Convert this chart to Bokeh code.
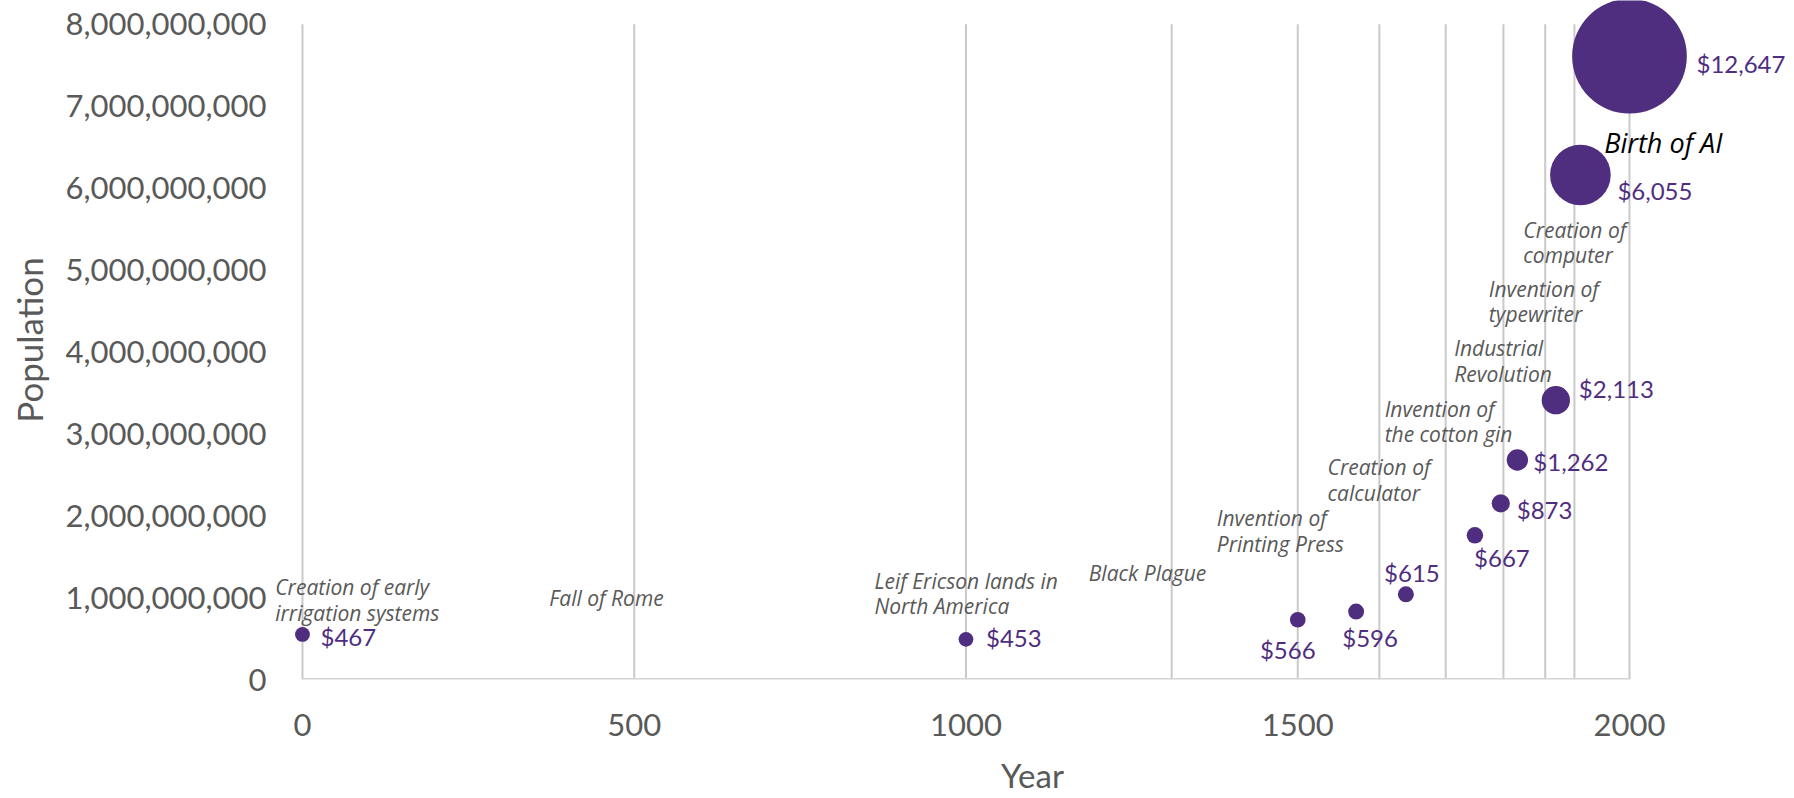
from bokeh.plotting import figure
from bokeh.models import Range1d, FixedTicker, NumeralTickFormatter, ColumnDataSource
from bokeh.core.properties import value
from bokeh.embed import file_html
from bokeh.resources import INLINE

# ---- data ----
years = [0, 1000, 1500, 1588, 1663, 1767, 1806, 1831, 1889, 1926, 2000]
population = [0.55e9, 0.49e9, 0.73e9, 0.83e9, 1.04e9, 1.76e9, 2.15e9, 2.68e9, 3.41e9, 6.16e9, 7.61e9]
gdp_per_capita = [467, 453, 566, 596, 615, 667, 873, 1262, 2113, 6055, 12647]

event_names = [
    "Creation of early\nirrigation systems",
    "Fall of Rome",
    "Leif Ericson lands in\nNorth America",
    "Black Plague",
    "Invention of\nPrinting Press",
    "Creation of\ncalculator",
    "Invention of\nthe cotton gin",
    "Industrial\nRevolution",
    "Invention of\ntypewriter",
    "Creation of\ncomputer",
    "Birth of AI",
]
event_years = [0, 500, 1000, 1310, 1500, 1623, 1723, 1810, 1873, 1917, 2000]

x_ticks = [0, 500, 1000, 1500, 2000]
y_ticks = [0, 1e9, 2e9, 3e9, 4e9, 5e9, 6e9, 7e9, 8e9]

# ---- layout / style (kept apart from the data) ----
PURPLE = "#4F2D7F"
GREY = "#595959"
FONT = "Lato"
EFONT = "Open Sans"

event_label_x = [-41, 372, 862, 1185, 1378, 1545, 1631, 1736, 1788, 1840, 1962]
event_label_y = [0.97e9, 1.0e9, 1.05e9, 1.306e9, 1.813e9, 2.436e9, 3.15e9, 3.889e9, 4.615e9, 5.336e9, 6.557e9]

val_align = ["left", "left", "center", "center", "center", "center", "left", "left", "left", "left", "left"]
val_dx = [18, 20, -10, 14, 6, 27, 16, 16, 23, 37, 67]
val_dy = [2, -2, 30, 26, -22, 22, 6, 2, -12, 16, 7]

bubble_diam = [2 * (5.5 + 0.0041 * v) for v in gdp_per_capita]

p = figure(width=1794, height=798, output_backend="svg", toolbar_location=None,
           x_range=Range1d(-48.2, 2248.7), y_range=Range1d(0, 8.29e9),
           min_border_left=270, min_border_right=0, min_border_top=0, min_border_bottom=119)
p.outline_line_color = None
p.xgrid.grid_line_color = None
p.ygrid.grid_line_color = None
p.background_fill_color = "white"
p.border_fill_color = "white"

# event lines
top = [8e9] * len(event_years)
bot = [0] * len(event_years)
p.segment(x0=event_years, y0=bot, x1=event_years, y1=top, line_color="#C9C9C9", line_width=2)
# x axis line from 0 to 2000
p.segment(x0=[x_ticks[0]], y0=[0], x1=[x_ticks[-1]], y1=[0], line_color="#D4D4D4", line_width=3)

src = ColumnDataSource(dict(x=years, y=population, d=bubble_diam,
                            lab=[f"${v:,}" for v in gdp_per_capita],
                            al=val_align, dx=val_dx, dy=val_dy))
p.scatter("x", "y", size="d", source=src, fill_color=PURPLE, line_color=PURPLE, line_width=0)
p.text("x", "y", text="lab", source=src, x_offset="dx", y_offset="dy",
       text_align="al", text_baseline="middle", text_color=PURPLE,
       text_font=value(FONT), text_font_size="24px")

ev = ColumnDataSource(dict(x=event_label_x[:-1], y=event_label_y[:-1], t=event_names[:-1]))
p.text("x", "y", text="t", source=ev, text_align="left", text_baseline="middle",
       text_color=GREY, text_font=value(EFONT), text_font_style="italic",
       text_font_size="21px", text_line_height=0.9)
ev2 = ColumnDataSource(dict(x=event_label_x[-1:], y=event_label_y[-1:], t=event_names[-1:]))
p.text("x", "y", text="t", source=ev2, text_align="left", text_baseline="middle",
       text_color="black", text_font=value(EFONT), text_font_style="italic",
       text_font_size="27px")

# axes
xa = p.xaxis[0]
xa.ticker = FixedTicker(ticks=x_ticks)
xa.axis_line_color = None
xa.major_tick_line_color = None
xa.minor_tick_line_color = None
xa.major_tick_out = 0
xa.major_label_standoff = 34
xa.major_label_text_font = FONT
xa.major_label_text_font_size = "31px"
xa.major_label_text_color = GREY
xa.axis_label = "Year"
xa.axis_label_text_font = FONT
xa.axis_label_text_font_size = "33px"
xa.axis_label_text_font_style = "normal"
xa.axis_label_text_color = GREY
xa.axis_label_text_line_height = 0.8
xa.axis_label_standoff = 16

ya = p.yaxis[0]
ya.ticker = FixedTicker(ticks=y_ticks)
ya.formatter = NumeralTickFormatter(format="0,0")
ya.axis_line_color = None
ya.major_tick_line_color = None
ya.minor_tick_line_color = None
ya.major_tick_out = 0
ya.major_label_standoff = 4
ya.major_label_text_font = FONT
ya.major_label_text_font_size = "31px"
ya.major_label_text_color = GREY
ya.axis_label = "Population"
ya.axis_label_text_font = FONT
ya.axis_label_text_font_size = "35px"
ya.axis_label_text_font_style = "normal"
ya.axis_label_text_color = GREY
ya.axis_label_standoff = 13

open("out.html", "w").write(file_html(p, INLINE))
